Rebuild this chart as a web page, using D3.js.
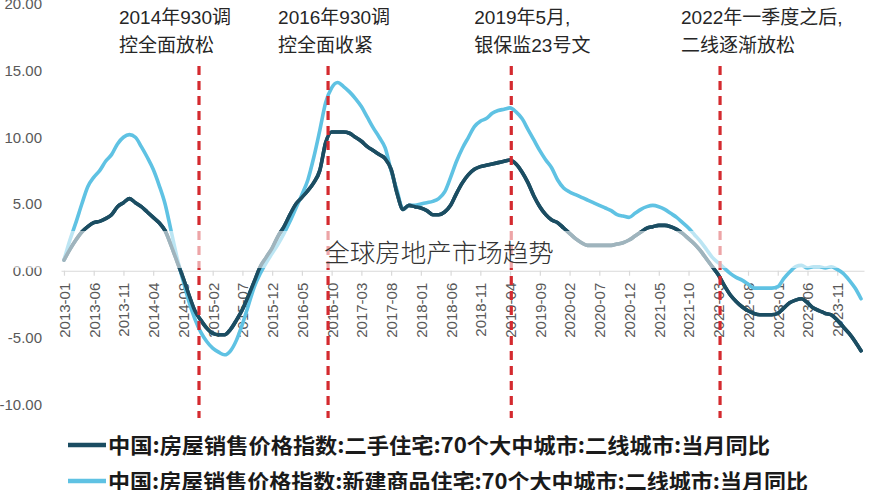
<!DOCTYPE html>
<html><head><meta charset="utf-8">
<script src="https://cdn.jsdelivr.net/npm/d3@7"></script>
<style>
html,body{margin:0;padding:0;background:#fff;}
svg{display:block;}
</style></head>
<body>
<svg id="chart" width="877" height="490"></svg>
<script>
// ---- data ----
const startYear = 2013, monthCount = 135;
const categories = d3.range(monthCount).map(i => {
  const y = startYear + Math.floor(i / 12), m = (i % 12) + 1;
  return y + "-" + (m < 10 ? "0" + m : m);
});
const secondHand = [
  0.8,1.6,2.3,2.9,3.3,3.6,3.7,3.9,4.2,4.8,5.1,5.4,5.1,4.8,4.4,4.0,3.6,3.0,1.9,0.7,
  -0.5,-1.8,-3.0,-3.7,-4.3,-4.7,-4.8,-4.8,-4.4,-3.7,-2.9,-1.9,-0.8,0.3,1.0,1.7,2.6,3.3,4.2,5.0,
  5.5,6.0,6.6,7.5,9.6,10.4,10.4,10.4,10.3,10.0,9.7,9.3,9.0,8.7,8.4,7.6,5.8,4.6,4.9,4.8,
  4.7,4.5,4.2,4.2,4.4,4.9,5.8,6.6,7.2,7.6,7.8,7.9,8.0,8.1,8.2,8.3,8.0,7.4,6.6,5.6,
  4.8,4.2,3.8,3.6,3.2,2.8,2.4,2.1,1.9,1.9,1.9,1.9,1.9,2.0,2.1,2.3,2.6,2.9,3.2,3.3,
  3.4,3.4,3.3,3.1,2.8,2.4,2.0,1.5,0.9,0.3,-0.3,-1.1,-1.8,-2.3,-2.7,-3.0,-3.2,-3.3,-3.3,-3.3,
  -3.2,-2.8,-2.4,-2.2,-2.1,-2.4,-2.8,-3.0,-3.2,-3.3,-3.7,-4.2,-4.7,-5.3,-6.0
];
const newBuild = [
  0.8,2.3,3.6,5.0,6.3,7.0,7.5,8.2,8.7,9.5,10.0,10.2,10.0,9.3,8.5,7.6,6.4,5.0,3.0,1.0,
  -0.7,-2.3,-3.6,-4.6,-5.3,-5.8,-6.1,-6.3,-6.0,-5.2,-4.0,-2.6,-1.2,-0.2,0.6,1.3,2.0,2.8,3.7,4.7,
  5.7,6.8,8.5,10.5,12.6,13.7,14.1,13.8,13.4,12.9,12.3,11.5,10.7,10.0,9.2,7.5,6.0,4.6,4.9,4.9,
  5.0,5.1,5.2,5.4,5.9,7.0,8.2,9.2,10.0,10.8,11.2,11.4,11.8,12.0,12.1,12.2,11.9,11.4,10.6,9.8,
  9.0,8.3,7.7,6.8,6.2,5.9,5.7,5.5,5.3,5.1,4.9,4.7,4.5,4.2,4.1,4.0,4.3,4.6,4.8,4.9,
  4.8,4.6,4.3,4.0,3.6,3.2,2.7,2.2,1.6,1.0,0.6,0.2,-0.2,-0.5,-0.7,-1.0,-1.3,-1.3,-1.3,-1.3,
  -1.2,-0.6,-0.1,0.3,0.4,0.2,0.3,0.3,0.2,0.3,0.1,-0.2,-0.7,-1.3,-2.1
];
const yTicks = [-10, -5, 0, 5, 10, 15, 20];
const seriesNames = [
  "中国:房屋销售价格指数:二手住宅:70个大中城市:二线城市:当月同比",
  "中国:房屋销售价格指数:新建商品住宅:70个大中城市:二线城市:当月同比"
];
const seriesColors = ["#1b4d62", "#5fc2e3"];
// policy events: fractional category index
const eventIndex = [22.7, 44.4, 75.2, 110.3];
const eventLines1 = ["2014年930调", "2016年930调", "2019年5月,", "2022年一季度之后,"];
const eventLines2 = ["控全面放松", "控全面收紧", "银保监23号文", "二线逐渐放松"];
const eventLabelOffset = [-80, -50, -37, -39];
const watermark = "全球房地产市场趋势";

// ---- layout ----
const svg = d3.select("#chart");
const x = d3.scalePoint().domain(categories).range([61, 864]).padding(0.5);
const y = d3.scaleLinear().domain([-10, 20]).range([404.2, 3.8]);
const xi = i => x(categories[0]) + i * x.step();

// y tick labels
svg.append("g").selectAll("text").data(yTicks).join("text")
  .attr("x", 42).attr("y", d => y(d)).attr("dy", "0.36em")
  .attr("text-anchor", "end")
  .style("font-family", "'Liberation Sans', Arial, sans-serif")
  .style("font-size", "15px").style("fill", "#595959")
  .text(d => d.toFixed(2));

// x axis at zero
const xAxis = d3.axisBottom(x)
  .tickValues(categories.filter((d, i) => i % 5 === 0))
  .tickSize(5).tickSizeOuter(0);
const gx = svg.append("g").attr("transform", `translate(0,${y(0)})`).call(xAxis);
gx.select(".domain").attr("stroke", "#d9d9d9").attr("stroke-width", 1.2);
gx.selectAll(".tick line").attr("stroke", "#d9d9d9").attr("stroke-width", 1.2);
gx.selectAll(".tick text")
  .attr("transform", "rotate(-90)")
  .attr("x", -12).attr("y", 0).attr("dy", "0.36em")
  .style("text-anchor", "end")
  .style("font-family", "'Liberation Sans', Arial, sans-serif")
  .style("font-size", "15px").style("fill", "#595959");

// lines
const line = d3.line().x((d, i) => x(categories[i])).y(d => y(d)).curve(d3.curveMonotoneX);
[secondHand, newBuild].forEach((s, k) => {
  svg.append("path").datum(s)
    .attr("fill", "none").attr("stroke", seriesColors[k])
    .attr("stroke-width", 3.6).attr("stroke-linejoin", "round").attr("stroke-linecap", "round")
    .attr("d", line);
});
// draw dark series above light in overlapping areas as reference shows dark on top
svg.append("path").datum(secondHand)
  .attr("fill", "none").attr("stroke", seriesColors[0])
  .attr("stroke-width", 3.6).attr("stroke-linejoin", "round").attr("stroke-linecap", "round")
  .attr("d", line);

// event dashed lines
svg.append("g").selectAll("line").data(eventIndex).join("line")
  .attr("x1", d => xi(d)).attr("x2", d => xi(d))
  .attr("y1", 66).attr("y2", 418)
  .attr("stroke", "#d42a2f").attr("stroke-width", 3.2)
  .attr("stroke-dasharray", "9,6");

// event annotations
const ann = svg.append("g")
  .style("font-family", "'Liberation Sans', 'Noto Sans CJK SC', sans-serif")
  .style("font-size", "19px").style("fill", "#262626");
eventIndex.forEach((d, k) => {
  const t = ann.append("text").attr("x", xi(d) + eventLabelOffset[k]).attr("y", 24);
  t.append("tspan").attr("x", xi(d) + eventLabelOffset[k]).attr("y", 24).text(eventLines1[k]);
  t.append("tspan").attr("x", xi(d) + eventLabelOffset[k]).attr("y", 52).text(eventLines2[k]);
});

// watermark band + text
svg.append("rect").attr("x", 0).attr("y", 231).attr("width", 877).attr("height", 37)
  .attr("fill", "#fff").attr("opacity", 0.58);
svg.append("text").attr("x", 439).attr("y", 262).attr("text-anchor", "middle")
  .style("font-family", "'Noto Sans CJK SC', sans-serif").style("font-weight", 300)
  .style("font-size", "25.5px").style("fill", "#333")
  .text(watermark);

// legend
const lg = svg.append("g");
seriesNames.forEach((n, k) => {
  const cy = 445 + k * 36;
  lg.append("line").attr("x1", 68).attr("x2", 106).attr("y1", cy).attr("y2", cy)
    .attr("stroke", seriesColors[k]).attr("stroke-width", 4.5);
  lg.append("text").attr("x", 108).attr("y", cy).attr("dy", "0.36em")
    .attr("textLength", k === 0 ? 662 : 700).attr("lengthAdjust", "spacingAndGlyphs")
    .style("font-family", "'Noto Sans CJK SC', sans-serif").style("font-weight", 700)
    .style("font-size", "21px").style("fill", "#1a1a1a")
    .text(n);
});
</script>
</body></html>
